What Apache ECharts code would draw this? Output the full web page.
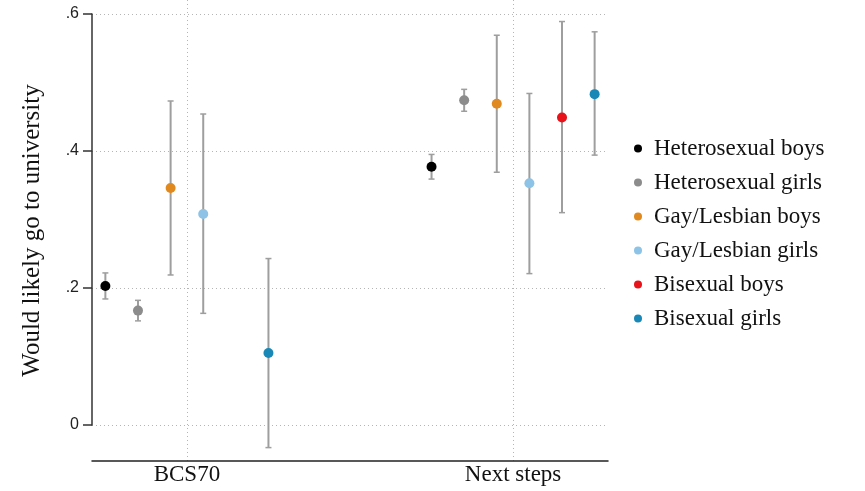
<!DOCTYPE html>
<html>
<head>
<meta charset="utf-8">
<script src="https://cdn.jsdelivr.net/npm/echarts@6/dist/echarts.min.js"></script>
<style>html,body{margin:0;padding:0;background:#fff}#c{width:865px;height:491px}</style>
</head>
<body>
<div id="c"></div>
<script>
// ---- data ----
var categories = ['BCS70', 'Next steps'];
var seriesNames = ['Heterosexual boys', 'Heterosexual girls', 'Gay/Lesbian boys', 'Gay/Lesbian girls', 'Bisexual boys', 'Bisexual girls'];
var yTickValues = [0, 0.2, 0.4, 0.6];
var yTickLabels = ['0', '.2', '.4', '.6'];

var heteroBoysEst = [0.203, 0.377];
var heteroBoysLo  = [0.184, 0.359];
var heteroBoysHi  = [0.222, 0.395];

var heteroGirlsEst = [0.167, 0.474];
var heteroGirlsLo  = [0.152, 0.458];
var heteroGirlsHi  = [0.182, 0.490];

var gayBoysEst = [0.346, 0.469];
var gayBoysLo  = [0.219, 0.369];
var gayBoysHi  = [0.473, 0.569];

var gayGirlsEst = [0.308, 0.353];
var gayGirlsLo  = [0.163, 0.221];
var gayGirlsHi  = [0.454, 0.484];

var biBoysEst = [null, 0.449];
var biBoysLo  = [null, 0.310];
var biBoysHi  = [null, 0.589];

var biGirlsEst = [0.105, 0.483];
var biGirlsLo  = [-0.033, 0.394];
var biGirlsHi  = [0.243, 0.574];

// ---- style / layout ----
var colors = ['#000000', '#8c8c8c', '#e0891f', '#8cc3e6', '#e8121a', '#1a88b6'];
var serif = 'Liberation Serif';
var sans = 'Liberation Sans';

var ests = [heteroBoysEst, heteroGirlsEst, gayBoysEst, gayGirlsEst, biBoysEst, biGirlsEst];
var los  = [heteroBoysLo, heteroGirlsLo, gayBoysLo, gayGirlsLo, biBoysLo, biGirlsLo];
var his  = [heteroBoysHi, heteroGirlsHi, gayBoysHi, gayGirlsHi, biBoysHi, biGirlsHi];

// layout in pixels
var L = 92, R = 865 - 608, TOP_OUT = 0, BOT_OUT = 491 - 461, TOP_IN = 14, BOT_IN = 491 - 425;
var innerH = 491 - TOP_IN - BOT_IN;
var perPx = 0.6 / innerH;
var yMinOuter = -((491 - BOT_OUT) - (491 - BOT_IN)) * perPx;
var yMaxOuter = 0.6 + (TOP_IN - TOP_OUT) * perPx;
var step = 0.1;
var xMin = 1 - 2.91 * step, xMax = 2 + 2.91 * step;

var series = [];
// error bars
seriesNames.forEach(function (name, i) {
  var off = (i - 2.5) * step;
  var data = [];
  categories.forEach(function (c, j) {
    if (ests[i][j] != null) data.push([j + 1 + off, los[i][j], his[i][j]]);
  });
  series.push({
    type: 'custom',
    name: name + ' CI',
    xAxisIndex: 0, yAxisIndex: 0,
    silent: true,
    z: 2,
    data: data,
    renderItem: function (params, api) {
      var x = api.value(0);
      var p1 = api.coord([x, api.value(1)]);
      var p2 = api.coord([x, api.value(2)]);
      var cw = 3;
      var st = { stroke: '#9e9e9e', lineWidth: 2 };
      var cs = { stroke: '#9e9e9e', lineWidth: 1.5 };
      return {
        type: 'group',
        children: [
          { type: 'line', shape: { x1: p1[0], y1: p1[1], x2: p2[0], y2: p2[1] }, style: st },
          { type: 'line', shape: { x1: p1[0] - cw, y1: p1[1], x2: p1[0] + cw, y2: p1[1] }, style: cs },
          { type: 'line', shape: { x1: p2[0] - cw, y1: p2[1], x2: p2[0] + cw, y2: p2[1] }, style: cs }
        ]
      };
    }
  });
});
// points
seriesNames.forEach(function (name, i) {
  var off = (i - 2.5) * step;
  var data = [];
  categories.forEach(function (c, j) {
    if (ests[i][j] != null) data.push([j + 1 + off, ests[i][j]]);
  });
  series.push({
    type: 'scatter',
    name: name,
    xAxisIndex: 0, yAxisIndex: 0,
    symbol: 'circle',
    symbolSize: 10,
    itemStyle: { color: colors[i], opacity: 1 },
    z: 3,
    data: data
  });
});

var chart = echarts.init(document.getElementById('c'), null, { renderer: 'canvas' });
chart.setOption({
  animation: false,
  backgroundColor: '#ffffff',
  color: colors,
  grid: [
    { left: L, right: R, top: TOP_OUT, bottom: BOT_OUT, containLabel: false },
    { left: L, right: R, top: TOP_IN, bottom: BOT_IN, containLabel: false }
  ],
  xAxis: [
    {
      type: 'value', gridIndex: 0, min: xMin, max: xMax,
      axisLine: { show: true, onZero: false, lineStyle: { color: '#222', width: 1.5 } },
      axisTick: { show: false, customValues: [1, 2] },
      splitLine: { show: true, lineStyle: { color: '#b5b5b5', type: [1, 3], width: 1 } },
      axisLabel: {
        customValues: [1, 2],
        formatter: function (v) { return categories[Math.round(v) - 1] || ''; },
        fontFamily: serif, fontSize: 23, color: '#111', margin: 2
      }
    },
    {
      type: 'value', gridIndex: 1, min: xMin, max: xMax, show: false
    }
  ],
  yAxis: [
    {
      type: 'value', gridIndex: 0, min: yMinOuter, max: yMaxOuter,
      axisLine: { show: false }, axisTick: { show: false }, axisLabel: { show: false },
      splitLine: { show: false },
      name: 'Would likely go to university', nameLocation: 'middle', nameGap: 47,
      nameRotate: 90,
      nameTextStyle: { fontFamily: serif, fontSize: 25, color: '#111' }
    },
    {
      type: 'value', gridIndex: 1, min: 0, max: 0.6, interval: 0.2,
      axisLine: { show: true, onZero: false, lineStyle: { color: '#333', width: 1.5 } },
      axisTick: { show: true, length: 9, lineStyle: { color: '#333', width: 1.5 } },
      axisLabel: {
        fontFamily: sans, fontSize: 16, color: '#222', margin: 13,
        formatter: function (v) {
          var k = yTickValues.findIndex(function (t) { return Math.abs(t - v) < 1e-9; });
          return k >= 0 ? yTickLabels[k] : '';
        }
      },
      splitLine: { show: true, lineStyle: { color: '#b5b5b5', type: [1, 3], width: 1 } }
    }
  ],
  legend: {
    orient: 'vertical',
    left: 629, top: 131,
    itemWidth: 22, itemHeight: 8, itemGap: 9,
    icon: 'circle',
    data: seriesNames,
    textStyle: { fontFamily: serif, fontSize: 23, color: '#111', lineHeight: 25 },
    selectedMode: false
  },
  series: series
});
</script>
</body>
</html>
